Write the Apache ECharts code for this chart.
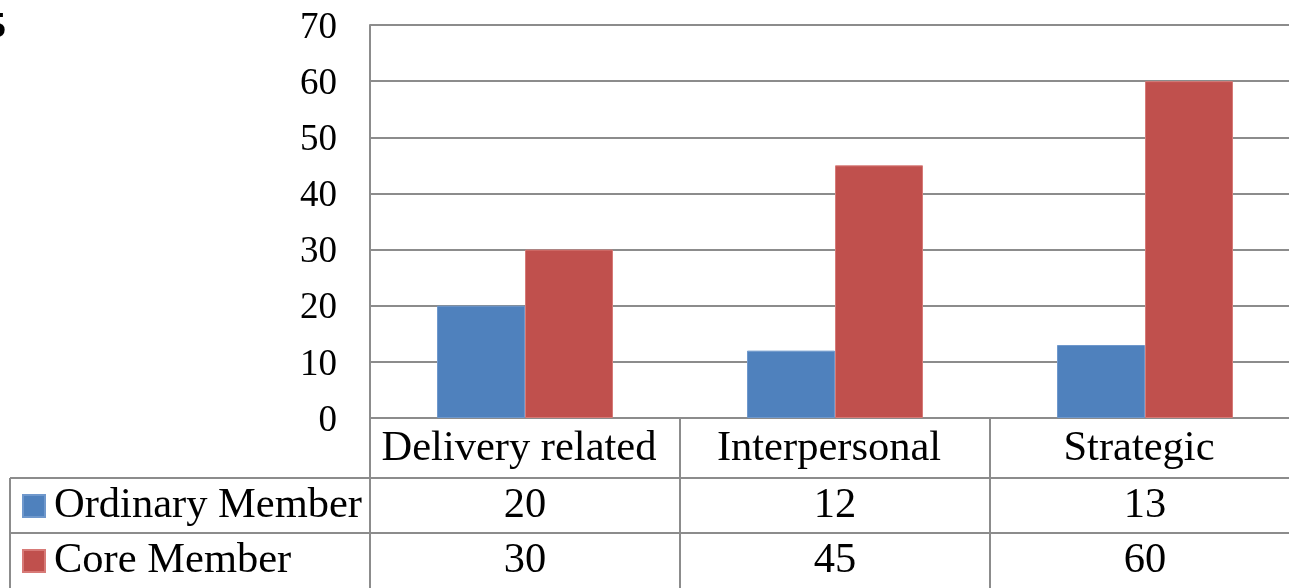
<!DOCTYPE html>
<html>
<head>
<meta charset="utf-8">
<script src="https://cdn.jsdelivr.net/npm/echarts@6/dist/echarts.min.js"></script>
<style>
  html, body { margin: 0; padding: 0; background: #fff; }
  #main { width: 1289px; height: 588px; }
</style>
</head>
<body>
<div id="main"></div>
<script>
// data
var categories = ['Delivery related', 'Interpersonal', 'Strategic'];
var ordinaryMember = [20, 12, 13];
var coreMember = [30, 45, 60];
var seriesNames = ['Ordinary Member', 'Core Member'];
var yMin = 0, yMax = 70, yStep = 10;

var serif = 'Liberation Serif';
var lineGray = '#8c8c8c';
var tableFont = 42.5;

var chart = echarts.init(document.getElementById('main'));

var option = {
  animation: false,
  // plot runs past the right edge of the picture, as in the original crop
  grid: { left: 370, top: 25, width: 930, height: 393, outerBoundsMode: 'none', containLabel: false },
  legend: {
    data: seriesNames,
    orient: 'vertical',
    left: 22,
    top: 484,
    padding: 0,
    icon: 'rect',
    itemWidth: 22,
    itemHeight: 22,
    itemGap: 11,
    textStyle: { fontFamily: serif, fontSize: tableFont, color: '#000', lineHeight: 44, padding: [0, 0, 0, 4] }
  },
  xAxis: [
    {
      type: 'category',
      data: categories,
      position: 'bottom',
      axisLine: { show: true, lineStyle: { color: lineGray, width: 2 } },
      axisTick: { show: true, interval: 0, length: 172, lineStyle: { color: lineGray, width: 2 } },
      axisLabel: { interval: 0, margin: 31, verticalAlign: 'middle', padding: [0, 12, 0, 0], fontFamily: serif, fontSize: tableFont, color: '#000' }
    },
    {
      type: 'category',
      data: ordinaryMember.map(String),
      position: 'bottom',
      axisLine: { show: false },
      axisTick: { show: false },
      axisLabel: { interval: 0, margin: 88, verticalAlign: 'middle', fontFamily: serif, fontSize: tableFont, color: '#000' }
    },
    {
      type: 'category',
      data: coreMember.map(String),
      position: 'bottom',
      axisLine: { show: false },
      axisTick: { show: false },
      axisLabel: { interval: 0, margin: 143, verticalAlign: 'middle', fontFamily: serif, fontSize: tableFont, color: '#000' }
    }
  ],
  yAxis: {
    type: 'value',
    min: yMin,
    max: yMax,
    interval: yStep,
    axisLine: { show: true, lineStyle: { color: lineGray, width: 2 } },
    axisTick: { show: false },
    splitLine: { lineStyle: { color: lineGray, width: 2 } },
    axisLabel: { margin: 33, verticalAlign: 'top', lineHeight: 6, fontFamily: serif, fontSize: 37, color: '#000' }
  },
  series: [
    {
      name: seriesNames[0],
      type: 'bar',
      data: ordinaryMember,
      barWidth: 88,
      barGap: '0%',
      itemStyle: { color: '#4F81BD', borderColor: '#6f98cc', borderWidth: 1 }
    },
    {
      name: seriesNames[1],
      type: 'bar',
      data: coreMember,
      barWidth: 88,
      barGap: '0%',
      itemStyle: { color: '#C0504D', borderColor: '#d77a77', borderWidth: 1 }
    }
  ],
  graphic: [
    // cropped figure number at the top left
    { type: 'text', left: -12, top: 10, style: { text: '5', fontFamily: serif, fontWeight: 'bold', fontSize: 36, fill: '#000' } },
    // data table rules left of the plot
    { type: 'line', shape: { x1: 10, y1: 478, x2: 1289, y2: 478 }, style: { stroke: lineGray, lineWidth: 2 } },
    { type: 'line', shape: { x1: 10, y1: 533, x2: 1289, y2: 533 }, style: { stroke: lineGray, lineWidth: 2 } },
    { type: 'line', shape: { x1: 10, y1: 478, x2: 10, y2: 590 }, style: { stroke: lineGray, lineWidth: 2 } }
  ]
};

chart.setOption(option);
</script>
</body>
</html>
